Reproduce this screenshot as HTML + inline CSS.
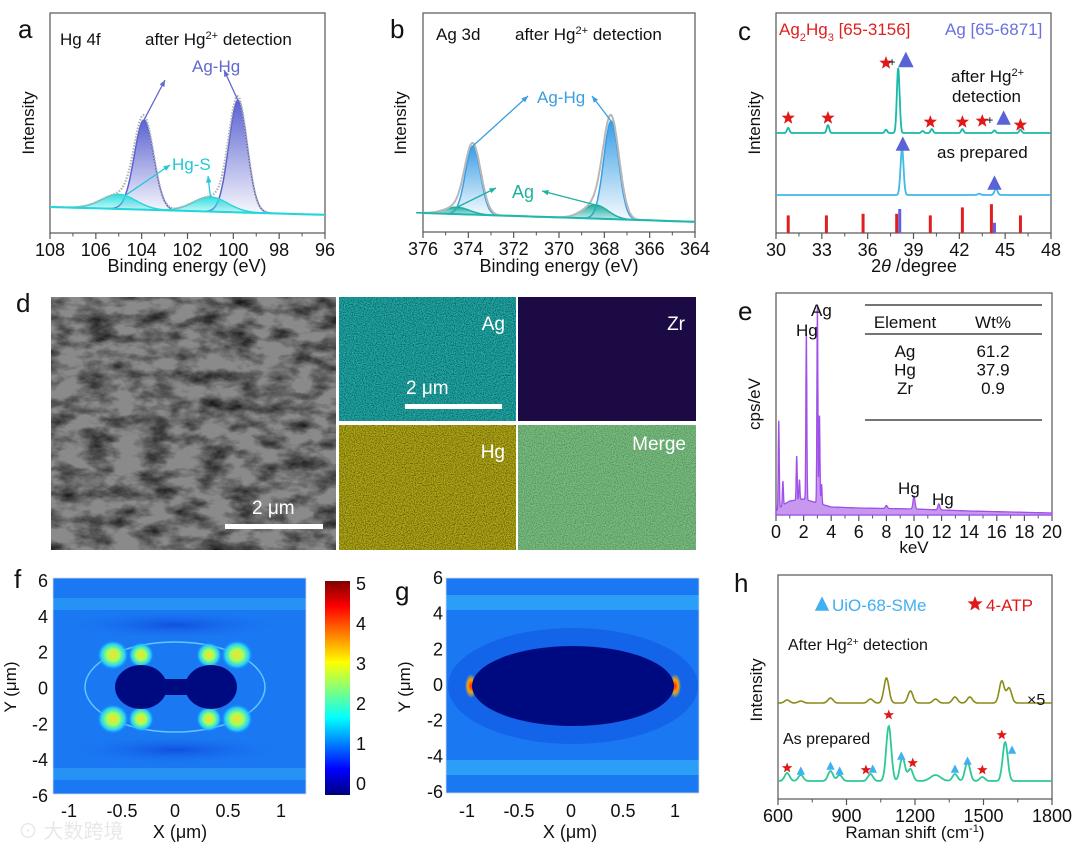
<!DOCTYPE html>
<html><head><meta charset="utf-8">
<style>
html,body{margin:0;padding:0;background:#fff;}
svg{display:block;font-family:"Liberation Sans","Noto Sans CJK SC",sans-serif;}
</style></head>
<body>
<svg id="fig" width="1080" height="848" viewBox="0 0 1080 848" xmlns="http://www.w3.org/2000/svg">
<defs>
<linearGradient id="gBlueA" x1="0" y1="0" x2="0" y2="1"><stop offset="0" stop-color="#5a62d0"/><stop offset="1" stop-color="#5a62d0" stop-opacity="0.05"/></linearGradient>
<linearGradient id="gBlueB" x1="0" y1="0" x2="0" y2="1"><stop offset="0" stop-color="#3a9ee6"/><stop offset="1" stop-color="#3a9ee6" stop-opacity="0.05"/></linearGradient>
<linearGradient id="gCyan" x1="0" y1="0" x2="0" y2="1"><stop offset="0" stop-color="#30e0e0"/><stop offset="1" stop-color="#30e0e0" stop-opacity="0.2"/></linearGradient>
<linearGradient id="gTeal" x1="0" y1="0" x2="0" y2="1"><stop offset="0" stop-color="#20b0a0"/><stop offset="1" stop-color="#20b0a0" stop-opacity="0.2"/></linearGradient>
<linearGradient id="jet" x1="0" y1="1" x2="0" y2="0">
<stop offset="0" stop-color="#00007f"/><stop offset="0.12" stop-color="#0000ff"/><stop offset="0.36" stop-color="#00ffff"/><stop offset="0.62" stop-color="#ffff00"/><stop offset="0.88" stop-color="#ff0000"/><stop offset="1" stop-color="#7f0000"/></linearGradient>
<radialGradient id="hot"><stop offset="0" stop-color="#ffe020"/><stop offset="0.4" stop-color="#a0ff60"/><stop offset="0.75" stop-color="#20d0ff"/><stop offset="1" stop-color="#1a78f2" stop-opacity="0"/></radialGradient>
<radialGradient id="red"><stop offset="0" stop-color="#ff2000"/><stop offset="0.5" stop-color="#ffa000"/><stop offset="1" stop-color="#ffd000" stop-opacity="0"/></radialGradient>
<radialGradient id="dark"><stop offset="0" stop-color="#1050e0"/><stop offset="1" stop-color="#1a78f2" stop-opacity="0"/></radialGradient>
<filter id="semTex" x="0" y="0" width="100%" height="100%"><feTurbulence type="fractalNoise" baseFrequency="0.035 0.07" numOctaves="4" seed="3"/><feColorMatrix type="matrix" values="0 0 0 0 0  0 0 0 0 0  0 0 0 0 0  1.6 0 0 0 -0.6"/></filter>
<filter id="noise" x="0" y="0" width="100%" height="100%"><feTurbulence type="fractalNoise" baseFrequency="0.9" numOctaves="2" seed="5"/><feColorMatrix type="matrix" values="0 0 0 0 0  0 0 0 0 0  0 0 0 0 0  1.2 0 0 0 -0.45"/></filter>
<clipPath id="clipF"><rect x="53" y="578" width="253" height="216"/></clipPath>
<clipPath id="clipG"><rect x="446" y="578" width="253" height="215"/></clipPath>
</defs>

<g font-size="26" fill="#111">
<text x="18" y="38">a</text>
<text x="390" y="38">b</text>
<text x="738" y="40">c</text>
<text x="16" y="312">d</text>
<text x="738" y="320">e</text>
<text x="14" y="588">f</text>
<text x="395" y="600">g</text>
<text x="734" y="592">h</text>
</g>

<g id="plots"></g>

<g>
<rect x="51" y="297" width="285" height="253" fill="#8a8a8a"/>
<rect x="51" y="297" width="285" height="253" filter="url(#semTex)"/>
<rect x="225" y="524" width="98" height="5" fill="#fff"/>
<text x="252" y="514" font-size="19" fill="#fff">2 μm</text>
</g>
<g>
<rect x="339" y="297" width="177" height="124" fill="#1eacaa"/>
<rect x="339" y="297" width="177" height="124" filter="url(#noise)"/>
<text x="505" y="330" font-size="19" fill="#fff" text-anchor="end">Ag</text>
<rect x="405" y="404" width="97" height="5" fill="#fff"/>
<text x="406" y="394" font-size="19" fill="#fff">2 μm</text>
</g>
<g>
<rect x="518" y="297" width="178" height="124" fill="#1c0a44"/>
<text x="685" y="330" font-size="19" fill="#fff" text-anchor="end">Zr</text>
</g>
<g>
<rect x="339" y="425" width="177" height="125" fill="#b4aa14"/>
<rect x="339" y="425" width="177" height="125" filter="url(#noise)"/>
<text x="505" y="458" font-size="19" fill="#fff" text-anchor="end">Hg</text>
</g>
<g>
<rect x="518" y="425" width="178" height="125" fill="#78c080"/>
<rect x="518" y="425" width="178" height="125" filter="url(#noise)" opacity="0.6"/>
<text x="686" y="450" font-size="19" fill="#fff" text-anchor="end">Merge</text>
</g>

<g clip-path="url(#clipF)">
<rect x="53" y="578" width="253" height="216" fill="#1a78f2"/>
<rect x="53" y="598" width="253" height="12" fill="#2a98f6" opacity="0.8"/>
<rect x="53" y="768" width="253" height="12" fill="#2a98f6" opacity="0.8"/>
<ellipse cx="175" cy="625" rx="110" ry="15" fill="url(#dark)"/>
<ellipse cx="175" cy="750" rx="110" ry="15" fill="url(#dark)"/>
<ellipse cx="175" cy="687" rx="90" ry="45" fill="none" stroke="#60c8ff" stroke-width="1.5"/>
<g>
<ellipse cx="113" cy="655" rx="16" ry="15" fill="url(#hot)"/><ellipse cx="141" cy="655" rx="13" ry="13" fill="url(#hot)"/>
<ellipse cx="209" cy="655" rx="13" ry="13" fill="url(#hot)"/><ellipse cx="237" cy="655" rx="16" ry="15" fill="url(#hot)"/>
<ellipse cx="113" cy="719" rx="16" ry="15" fill="url(#hot)"/><ellipse cx="141" cy="719" rx="13" ry="13" fill="url(#hot)"/>
<ellipse cx="209" cy="719" rx="13" ry="13" fill="url(#hot)"/><ellipse cx="237" cy="719" rx="16" ry="15" fill="url(#hot)"/>
</g>
<ellipse cx="140" cy="668" rx="5" ry="4" fill="url(#red)"/><ellipse cx="215" cy="668" rx="5" ry="4" fill="url(#red)"/>
<ellipse cx="140" cy="706" rx="5" ry="4" fill="url(#red)"/><ellipse cx="215" cy="706" rx="5" ry="4" fill="url(#red)"/>
<ellipse cx="141" cy="687" rx="26" ry="22" fill="#000a80"/>
<ellipse cx="211" cy="687" rx="26" ry="22" fill="#000a80"/>
<rect x="140" y="679" width="72" height="16" fill="#000a80"/>
</g>
<rect x="53" y="578" width="253" height="216" fill="none" stroke="#cfd8e8" stroke-width="0.8"/>
<g>
<rect x="325" y="581" width="25" height="214" fill="url(#jet)"/>
</g>

<g clip-path="url(#clipG)">
<rect x="446" y="578" width="253" height="215" fill="#1a78f2"/>
<rect x="446" y="595" width="253" height="15" fill="#30a8f8" opacity="0.8"/>
<rect x="446" y="760" width="253" height="15" fill="#30a8f8" opacity="0.8"/>
<ellipse cx="573" cy="686" rx="125" ry="58" fill="#1464ea"/>
<ellipse cx="471" cy="686" rx="6" ry="12" fill="url(#red)"/>
<ellipse cx="675" cy="686" rx="6" ry="12" fill="url(#red)"/>
<ellipse cx="573" cy="686" rx="101" ry="40" fill="#000a80"/>
</g>
<rect x="446" y="578" width="253" height="215" fill="none" stroke="#cfd8e8" stroke-width="0.8"/>

<text x="18" y="838" font-size="20" fill="#e8e8e8">⊙ 大数跨境</text>
</svg>

<script>
const NS="http://www.w3.org/2000/svg";
const root=document.getElementById('plots');
function mk(tag,attrs,parent){const e=document.createElementNS(NS,tag);for(const k in attrs)e.setAttribute(k,attrs[k]);(parent||root).appendChild(e);return e;}
function txt(x,y,s,size,fill,anchor,parent){const t=mk('text',{x:x,y:y,'font-size':size,fill:fill||'#111','text-anchor':anchor||'start'},parent);t.textContent=s;return t;}
const lin=(d0,d1,p0,p1)=>v=>p0+(v-d0)/(d1-d0)*(p1-p0);
const gauss=(x,c,h,s)=>h*Math.exp(-0.5*((x-c)/s)**2);

// panel a: Hg 4f XPS
const aAgHgCenters=[103.9,99.8], aAgHgHeights=[0.80,1.0], aAgHgWidths=[0.42,0.40];
const aHgSCenters=[105.0,101.0], aHgSHeights=[0.13,0.13], aHgSWidths=[0.75,0.75];
const aTicks=[108,106,104,102,100,98,96];
// panel b: Ag 3d XPS
const bAgHgCenters=[373.8,367.7], bAgHgHeights=[0.70,1.0], bAgHgWidths=[0.33,0.33];
const bAgCenters=[374.5,368.4], bAgHeights=[0.07,0.14], bAgWidths=[0.55,0.55];
const bTicks=[376,374,372,370,368,366,364];
// panel c: XRD
const cAfterPos=[30.8,33.4,37.2,38.0,39.6,40.2,42.2,44.3,46.0];
const cAfterInt=[0.08,0.12,0.05,1.0,0.03,0.06,0.06,0.04,0.05];
const cPrepPos=[38.25,43.3,44.4];
const cPrepInt=[0.72,0.02,0.1];
const cRefAg2Hg3Pos=[30.8,33.3,35.7,37.9,40.1,42.2,44.1,46.0];
const cRefAg2Hg3Int=[0.55,0.55,0.6,0.6,0.55,0.8,0.9,0.55];
const cRefAgPos=[38.1,44.3];
const cRefAgInt=[0.75,0.32];
const cTicks=[30,33,36,39,42,45,48];
// panel e: EDS
const eLinePos=[0.2,0.5,1.5,1.7,2.2,3.0,3.15,3.3,8.0,10.0,11.8];
const eLineInt=[0.44,0.12,0.22,0.1,0.83,0.98,0.44,0.1,0.015,0.065,0.03];
const eBgPos=[0,0.5,1,2,3,3.5,4,6,10,14,20];
const eBgInt=[0.02,0.05,0.07,0.08,0.06,0.05,0.04,0.035,0.03,0.02,0.01];
const eTicks=[0,2,4,6,8,10,12,14,16,18,20];
const eTableElements=["Ag","Hg","Zr"];
const eTableWt=["61.2","37.9","0.9"];
// panel h: Raman
const hAfterPos=[640,700,830,1005,1075,1180,1290,1375,1440,1580,1612];
const hAfterInt=[3,2,5,4,25,12,4,6,6,22,15];
const hPrepPos=[640,700,830,870,1005,1085,1145,1180,1290,1375,1430,1495,1595];
const hPrepInt=[8,6,10,6,7,55,24,12,6,7,19,4,39];
const hTicks=[600,900,1200,1500,1800];
// heatmap axes
const fXTicks=[-1,-0.5,0,0.5,1], fYTicks=[6,4,2,0,-2,-4,-6], cbTicks=[5,4,3,2,1,0];

function pathFrom(fn,x0,x1,step,xs,ys){let d='';for(let x=x0;(step>0?x<=x1+1e-9:x>=x1-1e-9);x+=step){d+=(d?'L':'M')+xs(x).toFixed(1)+','+ys(fn(x)).toFixed(1);}return d;}
function frame(x0,y0,x1,y1,name){mk('rect',{x:x0,y:y0,width:x1-x0,height:y1-y0,fill:'none',stroke:'#555','stroke-width':1.2,});}
function xAxis(ticks,xs,y,minorN,name){const g=mk('g',{});
 for(let i=0;i<ticks.length;i++){const x=xs(ticks[i]);mk('line',{x1:x,y1:y,x2:x,y2:y+6,stroke:'#555','stroke-width':1.2},g);
  txt(x,y+23,String(ticks[i]),18,'#111','middle',g);
  if(i<ticks.length-1){for(let k=1;k<minorN;k++){const xm=xs(ticks[i]+(ticks[i+1]-ticks[i])*k/minorN);mk('line',{x1:xm,y1:y,x2:xm,y2:y+3.5,stroke:'#555','stroke-width':1},g);}}}
 return g;}
function ylabel(x,y,s,name){const t=txt(x,y,s,17,'#111','middle');t.setAttribute('transform','rotate(-90 '+x+' '+y+')');return t;}
function star(cx,cy,r,fill,parent){let p='';for(let i=0;i<10;i++){const a=-Math.PI/2+i*Math.PI/5;const rr=i%2?r*0.42:r;p+=(i?'L':'M')+(cx+rr*Math.cos(a)).toFixed(1)+','+(cy+rr*Math.sin(a)).toFixed(1);}return mk('path',{d:p+'Z',fill:fill},parent);}
function tri(cx,cy,s,fill,parent){return mk('path',{d:`M${cx},${cy-s*0.8}L${cx+s*0.6},${cy+s*0.4}L${cx-s*0.6},${cy+s*0.4}Z`,fill:fill},parent);}
function arrow(x1,y1,x2,y2,col){const g=mk('g',{});mk('line',{x1:x1,y1:y1,x2:x2,y2:y2,stroke:col,'stroke-width':1.3},g);const a=Math.atan2(y2-y1,x2-x1),L=7;
 mk('path',{d:`M${x2},${y2}L${x2-L*Math.cos(a-0.4)},${y2-L*Math.sin(a-0.4)}L${x2-L*Math.cos(a+0.4)},${y2-L*Math.sin(a+0.4)}Z`,fill:col},g);return g;}
function supText(x,y,parts,size,fill,anchor,parent){const t=mk('text',{x:x,y:y,'font-size':size,fill:fill,'text-anchor':anchor||'start'},parent);
 parts.forEach(p=>{const s=document.createElementNS(NS,'tspan');if(p[1]==='sup'){s.setAttribute('baseline-shift','super');s.setAttribute('font-size',size*0.65);}else if(p[1]==='sub'){s.setAttribute('baseline-shift','sub');s.setAttribute('font-size',size*0.65);}s.textContent=p[0];t.appendChild(s);});return t;}

// panel a
(function(){
 const xs=lin(108,96,50,325), ys=lin(0,1,207,95);
 const base=x=>0.0-0.07*(108-x)/12;
 frame(50,13,325,233,'plot-frame-a');
 xAxis(aTicks,xs,233,2,'x-axis-a');
 txt(187,272,'Binding energy (eV)',18,'#111','middle');
 ylabel(34,123,'Intensity','y-axis-title-a');
 const g=mk('g',{});
 const agHg=x=>{let s=0;for(let i=0;i<aAgHgCenters.length;i++)s+=gauss(x,aAgHgCenters[i],aAgHgHeights[i],aAgHgWidths[i]);return s;};
 const hgS=x=>{let s=0;for(let i=0;i<aHgSCenters.length;i++)s+=gauss(x,aHgSCenters[i],aHgSHeights[i],aHgSWidths[i]);return s;};
 for(let i=0;i<aAgHgCenters.length;i++){const f=x=>base(x)+gauss(x,aAgHgCenters[i],aAgHgHeights[i],aAgHgWidths[i]);
  const c=aAgHgCenters[i];const d=pathFrom(f,c+1.6,c-1.6,-0.04,xs,ys);
  const pk=mk('path',{d:d+'Z',fill:'url(#gBlueA)',stroke:'#5a62d0','stroke-width':1.5},g);
  }
 for(let i=0;i<aHgSCenters.length;i++){const f=x=>base(x)+gauss(x,aHgSCenters[i],aHgSHeights[i],aHgSWidths[i]);
  const c=aHgSCenters[i];const d=pathFrom(f,c+2.5,c-2.5,-0.05,xs,ys);
  const pk=mk('path',{d:d+'Z',fill:'url(#gCyan)',stroke:'#28d8dc','stroke-width':1.5},g);
  }
 mk('path',{d:pathFrom(x=>base(x)+agHg(x)+hgS(x),108,96,-0.04,xs,ys),fill:'none',stroke:'#b0b0b0','stroke-width':2.2,'stroke-dasharray':'1.5 1.5',},g);
 mk('path',{d:pathFrom(base,108,96,-0.5,xs,ys),fill:'none',stroke:'#20d8dc','stroke-width':2,},g);
 txt(60,45,'Hg 4f',17);
 supText(145,45,[['after Hg'],['2+','sup'],['  detection']],17,'#111');
 txt(192,72,'Ag-Hg',17,'#6068d0');
 arrow(xs(aAgHgCenters[0]),ys(base(aAgHgCenters[0])+aAgHgHeights[0]),165,80,'#6068d0');
 arrow(xs(aAgHgCenters[1]),ys(base(aAgHgCenters[1])+aAgHgHeights[1]),224,70,'#6068d0');
 txt(172,170,'Hg-S',17,'#20c8d8');
 arrow(xs(aHgSCenters[0])+8,ys(base(aHgSCenters[0])+aHgSHeights[0]),170,165,'#20c8d8');
 arrow(xs(aHgSCenters[1]),ys(base(aHgSCenters[1])+aHgSHeights[1]),208,176,'#20c8d8');
})();

// panel b
(function(){
 const xs=lin(376,364,423,695), ys=lin(0,1,213,115);
 const base=x=>-0.09*(376-x)/12;
 frame(423,13,695,232,'plot-frame-b');
 xAxis(bTicks,xs,232,2,'x-axis-b');
 txt(559,272,'Binding energy (eV)',18,'#111','middle');
 ylabel(406,123,'Intensity','y-axis-title-b');
 const g=mk('g',{});
 for(let i=0;i<bAgHgCenters.length;i++){const c=bAgHgCenters[i];const f=x=>base(x)+gauss(x,c,bAgHgHeights[i],bAgHgWidths[i]);
  const pk=mk('path',{d:pathFrom(f,c+1.4,c-1.4,-0.03,xs,ys)+'Z',fill:'url(#gBlueB)',stroke:'#3a9ee6','stroke-width':1.5},g);
  }
 for(let i=0;i<bAgCenters.length;i++){const c=bAgCenters[i];const f=x=>base(x)+gauss(x,c,bAgHeights[i],bAgWidths[i]);
  const pk=mk('path',{d:pathFrom(f,c+1.8,c-1.8,-0.05,xs,ys)+'Z',fill:'url(#gTeal)',stroke:'#1eb0a0','stroke-width':1.5},g);
  }
 const env=x=>{let s=base(x);for(let i=0;i<2;i++){s+=gauss(x,bAgHgCenters[i],bAgHgHeights[i],bAgHgWidths[i]*1.08)+gauss(x,bAgCenters[i],bAgHeights[i],bAgWidths[i]);}return s;};
 mk('path',{d:pathFrom(env,376,364,-0.03,xs,ys),fill:'none',stroke:'#b8b8b8','stroke-width':2,},g);
 mk('path',{d:pathFrom(base,376,364,-0.5,xs,ys),fill:'none',stroke:'#1eb8b0','stroke-width':2,},g);
 txt(436,40,'Ag 3d',17);
 supText(515,40,[['after Hg'],['2+','sup'],['  detection']],17,'#111');
 txt(537,103,'Ag-Hg',17,'#3a9ee0');
 arrow(xs(bAgHgCenters[0]),ys(base(bAgHgCenters[0])+bAgHgHeights[0]),528,96,'#3a9ee0');
 arrow(xs(bAgHgCenters[1]),ys(base(bAgHgCenters[1])+bAgHgHeights[1]),592,96,'#3a9ee0');
 txt(512,198,'Ag',18,'#20b0a0');
 arrow(xs(bAgCenters[0]),ys(base(bAgCenters[0])+bAgHeights[0]),496,188,'#20b0a0');
 arrow(xs(bAgCenters[1]),ys(base(bAgCenters[1])+bAgHeights[1]),542,191,'#20b0a0');
})();

// panel c
(function(){
 const xs=lin(30,48,776,1051), yI=v=>v*65;
 frame(776,13,1051,233,'plot-frame-c');
 xAxis(cTicks,xs,233,2,'x-axis-c');
 const t=mk('text',{x:914,y:272,'font-size':18,fill:'#111','text-anchor':'middle',});
 const t1=document.createElementNS(NS,'tspan');t1.textContent='2';t.appendChild(t1);
 const t2=document.createElementNS(NS,'tspan');t2.setAttribute('font-style','italic');t2.textContent='θ';t.appendChild(t2);
 const t3=document.createElementNS(NS,'tspan');t3.textContent=' /degree';t.appendChild(t3);
 ylabel(760,123,'Intensity','y-axis-title-c');
 const after=x=>{let s=0;for(let i=0;i<cAfterPos.length;i++)s+=gauss(x,cAfterPos[i],cAfterInt[i],cAfterPos[i]===38.0?0.09:0.08);return s;};
 const prep=x=>{let s=0;for(let i=0;i<cPrepPos.length;i++)s+=gauss(x,cPrepPos[i],cPrepInt[i],0.1);return s;};
 mk('path',{d:pathFrom(after,30,48,0.02,xs,v=>133-yI(v)),fill:'none',stroke:'#1ab8a8','stroke-width':1.8,});
 mk('path',{d:pathFrom(prep,30,48,0.02,xs,v=>195-yI(v)),fill:'none',stroke:'#40b8e8','stroke-width':1.8,});
 const gr=mk('g',{});
 for(let i=0;i<cRefAg2Hg3Pos.length;i++){mk('rect',{x:xs(cRefAg2Hg3Pos[i])-1.5,y:233-cRefAg2Hg3Int[i]*32,width:3,height:cRefAg2Hg3Int[i]*32,fill:'#e02020'},gr);}
 const gb=mk('g',{});
 for(let i=0;i<cRefAgPos.length;i++){mk('rect',{x:xs(cRefAgPos[i])-1.5,y:233-cRefAgInt[i]*32,width:3,height:cRefAgInt[i]*32,fill:'#6060e0'},gb);}
 const lg=supText(779,35,[['Ag'],['2','sub'],['Hg'],['3','sub'],[' [65-3156]']],17,'#e02020');
 txt(945,35,'Ag [65-6871]',17,'#6a70e0');
 const m=mk('g',{});
 [[30.8,118],[33.4,118],[40.1,122],[42.2,122],[43.5,121],[46.0,125],[37.2,63]].forEach(p=>star(xs(p[0]),p[1],7,'#e01818',m));
 txt(xs(37.6),66,'+',12,'#111','middle',m);txt(xs(44.0),124,'+',12,'#111','middle',m);
 tri(xs(38.5),62,13,'#5a62d8',m);tri(xs(44.9),120,12,'#5a62d8',m);tri(xs(38.3),146,12,'#5a62d8',m);tri(xs(44.3),185,12,'#5a62d8',m);
 supText(951,82,[['after Hg'],['2+','sup']],17,'#111');
 txt(952,102,'detection',17);
 txt(937,158,'as prepared',17);
})();

// panel e
(function(){
 const xs=lin(0,20,776,1052), ys=v=>515-v*200;
 frame(776,293,1052,515,'plot-frame-e');
 xAxis(eTicks,xs,515,2,'x-axis-e');
 txt(914,553,'keV',17,'#111','middle');
 ylabel(760,404,'cps/eV','y-axis-title-e');
 const bg=x=>{for(let i=0;i<eBgPos.length-1;i++){if(x<=eBgPos[i+1]){const t=(x-eBgPos[i])/(eBgPos[i+1]-eBgPos[i]);return eBgInt[i]+t*(eBgInt[i+1]-eBgInt[i]);}}return eBgInt[eBgInt.length-1];};
 const spec=x=>{let s=bg(x);for(let i=0;i<eLinePos.length;i++)s+=gauss(x,eLinePos[i],eLineInt[i],eLinePos[i]<4?0.035:0.07);return s;};
 const d=pathFrom(spec,0,20,0.01,xs,ys);
 mk('path',{d:d+`L${xs(20)},515L${xs(0)},515Z`,fill:'#c898f0',stroke:'#a050e8','stroke-width':1.3,});
 txt(796,336,'Hg',17);txt(811,316,'Ag',17);txt(898,494,'Hg',17);txt(932,505,'Hg',17);
 const tb=mk('g',{});
 mk('line',{x1:865,y1:305,x2:1042,y2:305,stroke:'#222','stroke-width':1.2},tb);
 mk('line',{x1:865,y1:334,x2:1042,y2:334,stroke:'#222','stroke-width':1.2},tb);
 mk('line',{x1:865,y1:420,x2:1042,y2:420,stroke:'#222','stroke-width':1.2},tb);
 txt(905,328,'Element',17,'#111','middle',tb);txt(993,328,'Wt%',17,'#111','middle',tb);
 for(let i=0;i<eTableElements.length;i++){txt(905,357+i*18.5,eTableElements[i],17,'#111','middle',tb);txt(993,357+i*18.5,eTableWt[i],17,'#111','middle',tb);}
})();

// panel f/g axes
(function(){
 const fx=lin(-1,1,69,281), fy=lin(6,-6,581,796);
 const g1=mk('g',{});
 fXTicks.forEach(v=>txt(fx(v),817,String(v),18,'#111','middle',g1));
 const g2=mk('g',{});
 fYTicks.forEach(v=>txt(48,fy(v)+6,String(v),18,'#111','end',g2));
 ylabel(16,687,'Y (μm)','y-axis-title-f');
 txt(180,838,'X (μm)',18,'#111','middle');
 const cb=lin(0,5,784,584);
 const g3=mk('g',{});
 cbTicks.forEach(v=>txt(356,cb(v)+6,String(v),18,'#111','start',g3));
 const gx=lin(-1,1,467,675), gy=lin(6,-6,578,792);
 const g4=mk('g',{});
 fXTicks.forEach(v=>txt(gx(v),817,String(v),18,'#111','middle',g4));
 const g5=mk('g',{});
 fYTicks.forEach(v=>txt(443,gy(v)+6,String(v),18,'#111','end',g5));
 ylabel(410,687,'Y (μm)','y-axis-title-g');
 txt(570,838,'X (μm)',18,'#111','middle');
})();

// panel h
(function(){
 const xs=lin(600,1800,778,1052);
 frame(778,575,1052,799,'plot-frame-h');
 xAxis(hTicks,xs,799,2,'x-axis-h');
 const t=mk('text',{x:915,y:838,'font-size':17,fill:'#111','text-anchor':'middle',});
 const a1=document.createElementNS(NS,'tspan');a1.textContent='Raman shift (cm';t.appendChild(a1);
 const a2=document.createElementNS(NS,'tspan');a2.setAttribute('baseline-shift','super');a2.setAttribute('font-size','11');a2.textContent='-1';t.appendChild(a2);
 const a3=document.createElementNS(NS,'tspan');a3.textContent=')';t.appendChild(a3);
 ylabel(762,690,'Intensity','y-axis-title-h');
 const after=x=>{let s=0;for(let i=0;i<hAfterPos.length;i++)s+=gauss(x,hAfterPos[i],hAfterInt[i],11);return s;};
 const prep=x=>{let s=0;for(let i=0;i<hPrepPos.length;i++)s+=gauss(x,hPrepPos[i],hPrepInt[i],hPrepPos[i]===1290?22:11);return s;};
 mk('path',{d:pathFrom(after,600,1800,3,xs,v=>703-v),fill:'none',stroke:'#8a8a1a','stroke-width':1.6,});
 mk('path',{d:pathFrom(prep,600,1800,3,xs,v=>781-v),fill:'none',stroke:'#2ec898','stroke-width':1.8,});
 const lg=mk('g',{});
 tri(822,606,12,'#40b0f0',lg);txt(832,611,'UiO-68-SMe',17,'#40b0f0','start',lg);
 star(975,604,8,'#e01818',lg);txt(986,611,'4-ATP',17,'#e01818','start',lg);
 supText(788,650,[['After Hg'],['2+','sup'],['  detection']],16,'#111');
 txt(783,744,'As prepared',16);
 txt(1027,705,'×5',16);
 const m=mk('g',{});
 [[640,768],[985,770],[1085,715],[1190,763],[1495,770],[1580,735]].forEach(p=>star(xs(p[0]),p[1],5.5,'#e01818',m));
 [[700,772],[830,767],[870,772],[1015,770],[1140,757],[1375,770],[1430,762],[1625,751]].forEach(p=>tri(xs(p[0]),p[1],7,'#40b0f0',m));
})();
</script>
</body></html>
